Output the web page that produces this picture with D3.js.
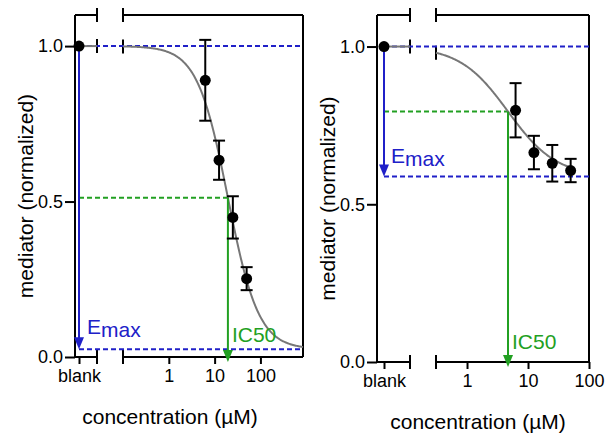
<!DOCTYPE html>
<html>
<head>
<meta charset="utf-8">
<script src="https://cdn.jsdelivr.net/npm/d3@7"></script>
<style>
  body { margin: 0; background: #fff; }
  text { font-family: "Liberation Sans", Arial, sans-serif; }
</style>
</head>
<body>
<div id="chart"></div>
<script>
// measured points (concentration in uM, normalized mediator, sd)
const leftConc = [6.25, 12.5, 25, 50]
const leftMean = [0.89, 0.633, 0.449, 0.252]
const leftSd = [0.13, 0.063, 0.068, 0.037]
const rightConc = [6.25, 12.5, 25, 50]
const rightMean = [0.798, 0.664, 0.63, 0.607]
const rightSd = [0.086, 0.053, 0.058, 0.037]
const blankValue = [1.0, 1.0]
// fitted curve parameters: top, bottom (Emax level), IC50, hill
const leftFit = [1.0, 0.025, 19.5, 1.3]
const rightFit = [1.0, 0.588, 4.7, 1.1]
const leftCurveRange = [0.1, 850]
const rightCurveRange = [0.31, 50]
const xTicks = [1, 10, 100]
const yTicks = [0, 0.5, 1.0]

const blue = "#2020c8"
const green = "#22a022"

let svg = d3.select("#chart").append("svg")
    .attr("width", 605)
    .attr("height", 434)

function hill(fit, c) {
    return fit[1] + (fit[0] - fit[1]) / (1 + Math.pow(c / fit[2], fit[3]))
}

function draw_panel(p) {
    let g = svg.append("g")
    let x = d3.scaleLog().domain(p.logDomain).range([p.logStart, p.right])
    let xb = d3.scaleOrdinal().domain(["blank"]).range([p.blankX])
    let y = d3.scaleLinear().domain([0, 1.1]).range([p.bottom, p.top])
    let fit = p.fit

    // frame with axis break
    let segs = [
        [p.left, p.top, p.left, p.bottom],
        [p.right, p.top, p.right, p.bottom],
        [p.left, p.top, p.blankEnd, p.top],
        [p.logStart, p.top, p.right, p.top],
        [p.left, p.bottom, p.blankEnd, p.bottom],
        [p.logStart, p.bottom, p.right, p.bottom]
    ]
    g.selectAll(".frame").data(segs).enter().append("line")
        .attr("x1", d => d[0]).attr("y1", d => d[1])
        .attr("x2", d => d[2]).attr("y2", d => d[3])
        .style("stroke", "#000").style("stroke-width", 2)

    let curveStart = hill(fit, p.curveRange[0])
    let breaks = [
        [p.blankEnd, p.top], [p.logStart, p.top],
        [p.blankEnd, p.bottom], [p.logStart, p.bottom],
        [p.blankEnd, y(p.blank)], [p.logStart, y(curveStart)]
    ]
    g.selectAll(".brk").data(breaks).enter().append("line")
        .attr("x1", d => d[0]).attr("x2", d => d[0])
        .attr("y1", d => d[1] - 7).attr("y2", d => d[1] + 7)
        .style("stroke", "#000").style("stroke-width", 2)

    // axes
    let yAxis = g.append("g")
        .attr("transform", "translate(" + p.left + ",0)")
        .call(d3.axisLeft(y).tickValues(yTicks).tickFormat(d3.format(".1f")).tickSize(10).tickPadding(2))
    let xAxis = g.append("g")
        .attr("transform", "translate(0," + p.bottom + ")")
        .call(d3.axisBottom(x).tickValues(xTicks).tickFormat(d3.format("d")).tickSize(7).tickPadding(5))
    let bAxis = g.append("g")
        .attr("transform", "translate(0," + p.bottom + ")")
        .call(d3.axisBottom(xb).tickSize(7).tickPadding(5))
    ;[yAxis, xAxis, bAxis].forEach(a => {
        a.select(".domain").remove()
        a.selectAll(".tick line").style("stroke", "#000").style("stroke-width", 2)
        a.selectAll(".tick text").style("font-size", "18px").style("fill", "#000")
            .style("font-family", '"Liberation Sans", Arial, sans-serif')
    })

    // reference levels
    let emax_y = y(fit[1])
    let mid = (fit[0] + fit[1]) / 2
    let dash = "5,3"
    g.selectAll(".lvl").data([fit[0], fit[1]]).enter().append("line")
        .attr("x1", p.blankX).attr("x2", p.right)
        .attr("y1", d => y(d)).attr("y2", d => y(d))
        .style("stroke", blue).style("stroke-width", 2).style("stroke-dasharray", dash)

    g.append("line")
        .attr("x1", p.blankX).attr("x2", x(fit[2]))
        .attr("y1", y(mid)).attr("y2", y(mid))
        .style("stroke", green).style("stroke-width", 2).style("stroke-dasharray", dash)

    // fitted curve
    let cs = d3.range(0, 201).map(i => p.curveRange[0] * Math.pow(p.curveRange[1] / p.curveRange[0], i / 200))
    g.append("path")
        .datum(cs)
        .attr("d", d3.line().x(d => x(d)).y(d => y(hill(fit, d))))
        .style("fill", "none").style("stroke", "#777").style("stroke-width", 2)
    g.append("line")
        .attr("x1", p.blankX).attr("x2", p.blankEnd)
        .attr("y1", y(p.blank)).attr("y2", y(p.blank))
        .style("stroke", "#777").style("stroke-width", 2)

    // Emax arrow
    let ax = p.blankX
    g.append("line")
        .attr("x1", ax).attr("x2", ax)
        .attr("y1", y(p.blank)).attr("y2", emax_y - 10)
        .style("stroke", blue).style("stroke-width", 2)
    g.append("path")
        .attr("d", "M" + (ax - 5) + "," + (emax_y - 12) + "L" + (ax + 5) + "," + (emax_y - 12) + "L" + ax + "," + emax_y + "Z")
        .style("fill", blue)
    let em = g.append("text")
        .attr("x", ax + p.emaxDx).attr("y", emax_y + p.emaxDy)
        .style("font-size", "21px").style("fill", blue)
    em.append("tspan").text("E")
    em.append("tspan").attr("dy", 3).text("max")

    // IC50 arrow
    let ix = x(fit[2])
    let tip = p.bottom + 5
    g.append("line")
        .attr("x1", ix).attr("x2", ix)
        .attr("y1", y(mid)).attr("y2", tip - 10)
        .style("stroke", green).style("stroke-width", 2)
    g.append("path")
        .attr("d", "M" + (ix - 5) + "," + (tip - 12) + "L" + (ix + 5) + "," + (tip - 12) + "L" + ix + "," + tip + "Z")
        .style("fill", green)
    g.append("text")
        .attr("x", ix + 4).attr("y", p.bottom - p.icDy)
        .style("font-size", "21px").style("fill", green)
        .text("IC50")

    // error bars and points
    let pts = p.conc.map((c, i) => ({ x: x(c), m: p.mean[i], s: p.sd[i] }))
    pts.push({ x: xb("blank"), m: p.blank, s: 0 })
    let eb = g.selectAll(".eb").data(pts.filter(d => d.s > 0)).enter().append("g")
    eb.append("line")
        .attr("x1", d => d.x).attr("x2", d => d.x)
        .attr("y1", d => y(d.m + d.s)).attr("y2", d => y(d.m - d.s))
    eb.append("line")
        .attr("x1", d => d.x - 6).attr("x2", d => d.x + 6)
        .attr("y1", d => y(d.m + d.s)).attr("y2", d => y(d.m + d.s))
    eb.append("line")
        .attr("x1", d => d.x - 6).attr("x2", d => d.x + 6)
        .attr("y1", d => y(d.m - d.s)).attr("y2", d => y(d.m - d.s))
    eb.selectAll("line").style("stroke", "#000").style("stroke-width", 2)
    g.selectAll(".pt").data(pts).enter().append("circle")
        .attr("cx", d => d.x).attr("cy", d => y(d.m))
        .attr("r", 5.5)
        .style("fill", "#000")

    // titles
    g.append("text")
        .attr("x", (p.left + p.right) / 2 + p.xtDx).attr("y", p.bottom + 67)
        .attr("text-anchor", "middle")
        .style("font-size", "21px")
        .text("concentration (\u00b5M)")
    g.append("text")
        .attr("transform", "translate(" + (p.left - 42) + "," + ((p.top + p.bottom) / 2 + 10) + ") rotate(-90)")
        .attr("text-anchor", "middle")
        .style("font-size", "21px")
        .text("mediator (normalized)")
}

draw_panel({
    left: 75, right: 303, top: 15, bottom: 357,
    blankX: 79, blankEnd: 97, logStart: 123,
    logDomain: [0.1, 850], curveRange: leftCurveRange,
    fit: leftFit, blank: blankValue[0],
    conc: leftConc, mean: leftMean, sd: leftSd,
    emaxDx: 8, emaxDy: -15, icDy: 15, xtDx: -19
})

draw_panel({
    left: 377, right: 589, top: 15, bottom: 362,
    blankX: 384, blankEnd: 410, logStart: 436,
    logDomain: [0.31, 100], curveRange: rightCurveRange,
    fit: rightFit, blank: blankValue[1],
    conc: rightConc, mean: rightMean, sd: rightSd,
    emaxDx: 7, emaxDy: -14, icDy: 13, xtDx: -5
})
</script>
</body>
</html>
